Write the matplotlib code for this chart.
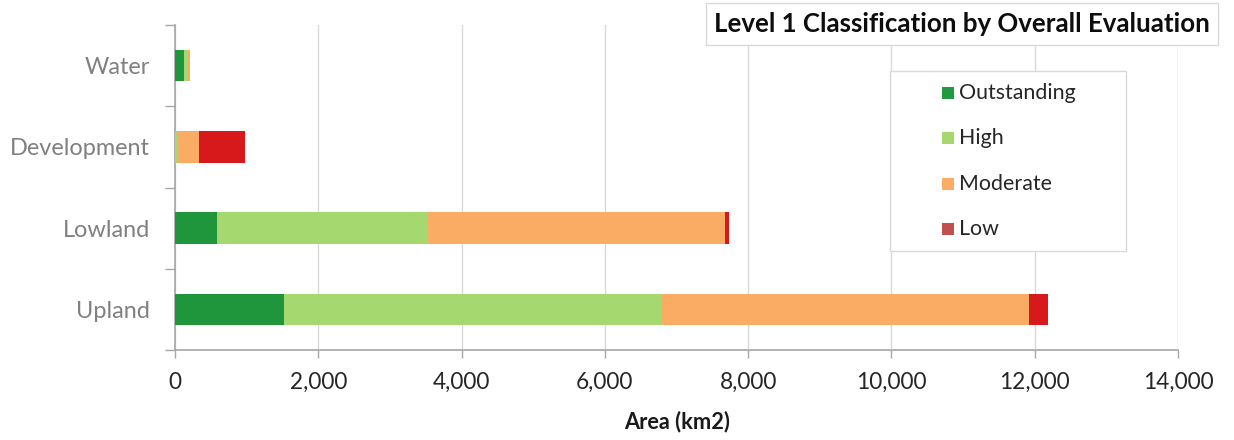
import matplotlib
matplotlib.use("Agg")
import matplotlib.pyplot as plt
from matplotlib.patches import Rectangle
from matplotlib.ticker import FuncFormatter, MultipleLocator, FixedLocator
import numpy as np

# ---- data ----
categories = ["Upland", "Lowland", "Development", "Water"]
series_names = ["Outstanding", "High", "Moderate", "Low"]
outstanding = [1520, 590, 0, 130]
high = [5280, 2940, 40, 50]
moderate = [5120, 4140, 300, 30]
low = [270, 65, 640, 0]
x_ticks = [0, 2000, 4000, 6000, 8000, 10000, 12000, 14000]

bar_colors = ["#1f963c", "#a5d86e", "#fbac64", "#d7191c"]
legend_colors = ["#1f9a3f", "#a5d86e", "#fbac64", "#c0504d"]

FONT = "Lato"
W, H = 1234, 440
fig = plt.figure(figsize=(W / 100, H / 100), dpi=100)
fig.patch.set_facecolor("white")

def fx(px):
    return px / W

def fy(py):
    return 1 - py / H

ax = fig.add_axes([fx(175), fy(350), fx(1178) - fx(175), fy(25) - fy(350)])

y = np.arange(len(categories))
left = np.zeros(len(categories))
for vals, col in zip([outstanding, high, moderate, low], bar_colors):
    ax.barh(y, vals, left=left, height=0.39, color=col, edgecolor="none", zorder=3)
    left = left + np.array(vals)

ax.set_xlim(0, 14000)
ax.set_ylim(-0.5, len(categories) - 0.5)
ax.xaxis.set_major_locator(FixedLocator(x_ticks))
ax.xaxis.set_major_formatter(FuncFormatter(lambda v, p: f"{int(v):,}"))
ax.grid(axis="x", color="#d9d9d9", linewidth=1, zorder=0)
ax.set_axisbelow(True)

ax.set_yticks(y)
ax.set_yticklabels(categories)
ax.yaxis.set_minor_locator(FixedLocator(np.arange(-0.5, len(categories), 1.0)))
ax.tick_params(axis="y", which="major", length=0, pad=18, labelcolor="#808080")
ax.tick_params(axis="y", which="minor", length=7.2, width=1, color="#a6a6a6", direction="out")
ax.tick_params(axis="x", which="major", length=6, width=1, color="#a6a6a6", pad=10,
               labelcolor="#262626")

for s in ["top", "right"]:
    ax.spines[s].set_visible(False)
for s in ["left", "bottom"]:
    ax.spines[s].set_color("#a6a6a6")
    ax.spines[s].set_linewidth(1.2)

for lab in ax.get_yticklabels() + ax.get_xticklabels():
    lab.set_family(FONT)
    lab.set_fontsize(16.5)

xl = fig.text(fx(677), fy(422), "Area (km2)", ha="center", va="center",
              family=FONT, fontweight="bold", fontsize=12, color="#1a1a1a")

title = fig.text(fx(962), fy(24), "Level 1 Classification by Overall Evaluation",
                 ha="center", va="center", family=FONT, fontweight="bold",
                 fontsize=14, color="#0d0d0d")

# title box
fig.patches.append(Rectangle((fx(706), fy(45)), fx(1218) - fx(706), fy(3) - fy(45),
                             transform=fig.transFigure, facecolor="white",
                             edgecolor="#d9d9d9", linewidth=1, zorder=5))
title.set_zorder(6)

# legend box
fig.patches.append(Rectangle((fx(890), fy(251)), fx(1126) - fx(890), fy(71) - fy(251),
                             transform=fig.transFigure, facecolor="white",
                             edgecolor="#d9d9d9", linewidth=1, zorder=5))
leg_texts = []
for i, (name, col) in enumerate(zip(series_names, legend_colors)):
    yc = 93 + i * 45.3
    fig.patches.append(Rectangle((fx(942), fy(yc + 6)), fx(12), 12 / H,
                                 transform=fig.transFigure, facecolor=col,
                                 edgecolor="none", zorder=6))
    t = fig.text(fx(959), fy(yc), name, ha="left", va="center", family=FONT,
                 fontsize=16, color="#262626", zorder=7)
    leg_texts.append(t)

# fit font sizes to reference widths
fig.canvas.draw()
r = fig.canvas.get_renderer()

def fit(t, target):
    w = t.get_window_extent(r).width
    t.set_fontsize(t.get_fontsize() * target / w)

fit(title, 498)
fit(xl, 105)
fit(leg_texts[0], 117)
for t in leg_texts[1:]:
    t.set_fontsize(leg_texts[0].get_fontsize())
ylabs = ax.get_yticklabels()
dev = [l for l in ylabs if l.get_text() == "Development"][0]
fit(dev, 140)
for l in ylabs:
    l.set_fontsize(dev.get_fontsize())
xlabs = ax.get_xticklabels()
x2 = [l for l in xlabs if l.get_text() == "2,000"][0]
fit(x2, 57)
for l in xlabs:
    l.set_fontsize(x2.get_fontsize())

fig.savefig("out.png", dpi=100, facecolor="white")
